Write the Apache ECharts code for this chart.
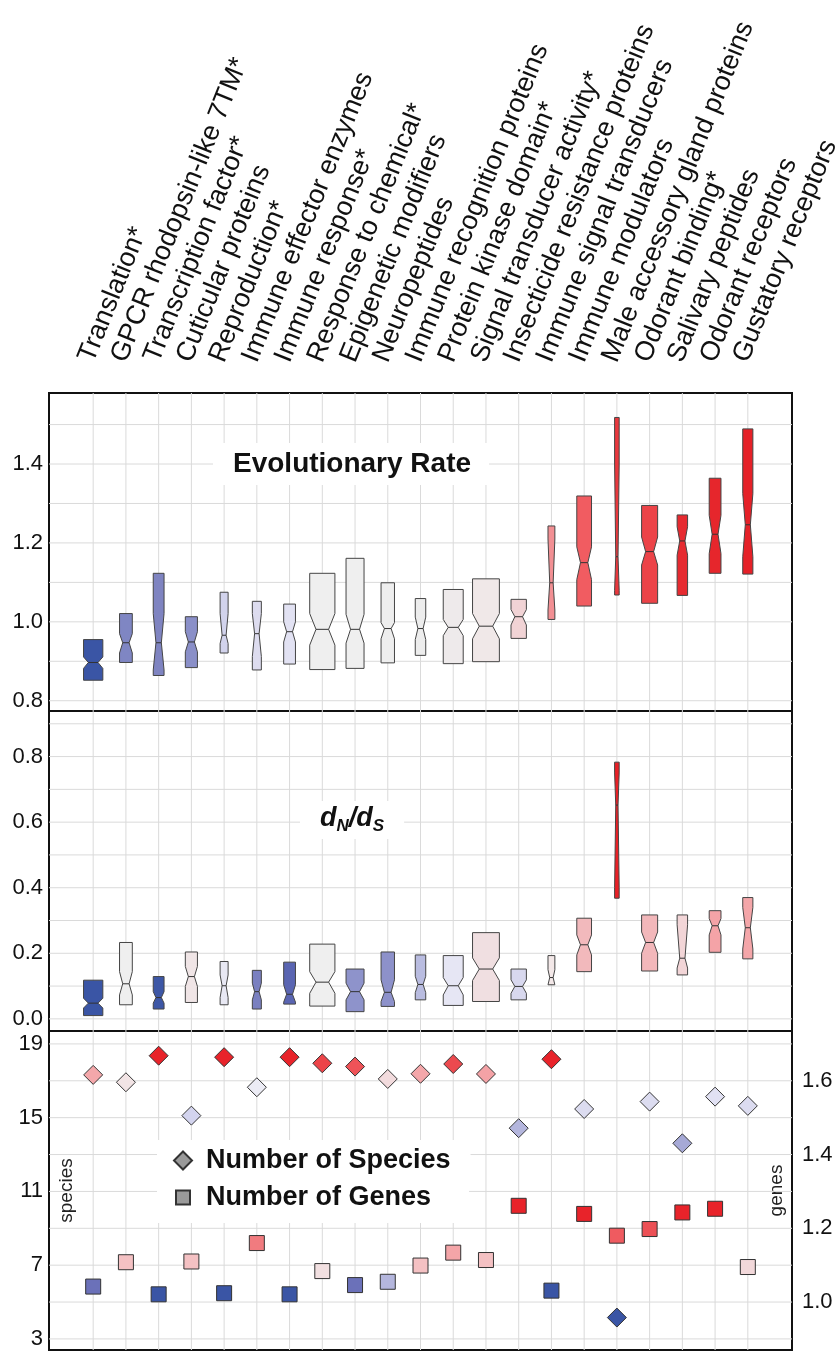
<!DOCTYPE html>
<html>
<head>
<meta charset="utf-8">
<script src="https://cdn.jsdelivr.net/npm/echarts@6.0.0/dist/echarts.min.js"></script>
<style>
	html, body { margin: 0; padding: 0; background: #fff; }
	#main { width: 839px; height: 1351px; }
</style>
</head>
<body>
<div id="main"></div>
<script>
	var categories = ['Translation*', 'GPCR rhodopsin-like 7TM*', 'Transcription factor*', 'Cuticular proteins',
		'Reproduction*', 'Immune effector enzymes', 'Immune response*', 'Response to chemical*',
		'Epigenetic modifiers', 'Neuropeptides', 'Immune recognition proteins', 'Protein kinase domain*',
		'Signal transducer activity*', 'Insecticide resistance proteins', 'Immune signal transducers',
		'Immune modulators', 'Male accessory gland proteins', 'Odorant binding*', 'Salivary peptides',
		'Odorant receptors', 'Gustatory receptors'];

	// box width, in category steps (same for both box panels)
	var boxWidth = [0.59, 0.39, 0.33, 0.37, 0.245, 0.275, 0.36, 0.77, 0.55, 0.41, 0.32,
		0.61, 0.82, 0.47, 0.21, 0.45, 0.14, 0.49, 0.32, 0.36, 0.31];

	// evolutionary rate
	var erQ1 = [0.852, 0.897, 0.864, 0.884, 0.921, 0.878, 0.893, 0.879, 0.882, 0.896, 0.915,
		0.894, 0.899, 0.958, 1.006, 1.040, 1.068, 1.047, 1.067, 1.123, 1.121];
	var erQ3 = [0.955, 1.021, 1.123, 1.013, 1.075, 1.052, 1.045, 1.123, 1.161, 1.099, 1.059,
		1.082, 1.109, 1.057, 1.243, 1.319, 1.518, 1.295, 1.271, 1.364, 1.489];
	var erMed = [0.897, 0.947, 0.947, 0.949, 0.966, 0.970, 0.975, 0.981, 0.981, 0.983, 0.983,
		0.986, 0.989, 1.013, 1.099, 1.150, 1.165, 1.178, 1.205, 1.222, 1.246];
	var erNotchLo = [0.882, 0.921, 0.878, 0.924, 0.945, 0.912, 0.949, 0.941, 0.946, 0.957, 0.955,
		0.965, 0.957, 0.992, 1.030, 1.107, 1.080, 1.144, 1.169, 1.173, 1.165];
	var erNotchHi = [0.911, 0.970, 1.021, 0.975, 1.021, 1.021, 1.000, 1.021, 1.019, 0.998, 1.012,
		1.006, 1.021, 1.031, 1.210, 1.190, 1.400, 1.215, 1.241, 1.270, 1.325];
	var erColors = ['#3a55a5', '#7f86c3', '#7f84c1', '#8a8fc8', '#d2d3ec', '#dddcef', '#e2e2f3',
		'#efefef', '#efefef', '#eeeeee', '#ededed', '#eeeaeb', '#f0e8e8', '#f1d3d5', '#f28f93',
		'#f15c61', '#e8383d', '#ec4348', '#e62a30', '#e6262c', '#e52128'];

	// dN/dS
	var dnQ1 = [0.010, 0.043, 0.030, 0.050, 0.043, 0.030, 0.045, 0.039, 0.022, 0.038, 0.058,
		0.041, 0.053, 0.058, 0.104, 0.144, 0.368, 0.146, 0.134, 0.203, 0.183];
	var dnQ3 = [0.118, 0.233, 0.129, 0.204, 0.175, 0.148, 0.173, 0.228, 0.152, 0.204, 0.195,
		0.193, 0.263, 0.152, 0.193, 0.307, 0.783, 0.317, 0.317, 0.330, 0.370];
	var dnMed = [0.048, 0.107, 0.065, 0.129, 0.101, 0.083, 0.075, 0.112, 0.083, 0.081, 0.105,
		0.101, 0.152, 0.099, 0.126, 0.226, 0.652, 0.233, 0.185, 0.284, 0.278];
	var dnNotchLo = [0.033, 0.073, 0.048, 0.099, 0.065, 0.058, 0.051, 0.078, 0.058, 0.053, 0.080,
		0.073, 0.117, 0.078, 0.104, 0.195, 0.400, 0.200, 0.155, 0.256, 0.213];
	var dnNotchHi = [0.063, 0.144, 0.083, 0.160, 0.134, 0.109, 0.104, 0.144, 0.109, 0.119, 0.130,
		0.126, 0.186, 0.119, 0.150, 0.256, 0.750, 0.265, 0.287, 0.306, 0.340];
	var dnColors = ['#3a55a5', '#efefef', '#3d57a6', '#f0e5e6', '#e8e8f3', '#7a80c0', '#5a65b2',
		'#efefef', '#8e93cb', '#8d91ca', '#b9bce0', '#e6e6f4', '#f0dfe1', '#d8d8ee', '#f3e8e8',
		'#f2b9bc', '#e82026', '#f2b7ba', '#f2d5d7', '#f4a3a7', '#f4a6a9'];

	// number of species / genes
	var species = [17.32, 16.92, 18.36, 15.11, 18.28, 16.65, 18.28, 17.95, 17.77, 17.10, 17.38,
		17.91, 17.37, 14.43, 18.17, 15.47, 4.16, 15.87, 13.61, 16.14, 15.64];
	var genes = [1.042, 1.108, 1.021, 1.110, 1.024, 1.160, 1.021, 1.084, 1.046, 1.055, 1.099,
		1.134, 1.114, 1.261, 1.031, 1.239, 1.180, 1.198, 1.243, 1.253, 1.095];
	var speciesColors = ['#f4a7aa', '#f2e4e5', '#e8232a', '#d3d4ee', '#e8232a', '#ececf5', '#e8232a',
		'#ec4449', '#ef5358', '#f2dbdd', '#f4a7aa', '#ec4a4f', '#f4a2a6', '#b4b6dd', '#e8232a',
		'#dcdcf0', '#3a55a5', '#dcdcf0', '#a6a9d6', '#e1e1f3', '#dcdcf0'];
	var geneColors = ['#6b71b9', '#f4c1c3', '#3a55a5', '#f4c1c3', '#3a55a5', '#f17b7f', '#3a55a5',
		'#f2e0e1', '#6b71b9', '#b4b6dd', '#f4c1c3', '#f4a5a8', '#f4c1c3', '#e8232a', '#3a55a5',
		'#e8232a', '#ef5b60', '#ec5055', '#e8232a', '#e8232a', '#f2d8da'];

	// axes
	var erTicks = [0.8, 1.0, 1.2, 1.4];
	var erLines = [0.8, 0.9, 1.0, 1.1, 1.2, 1.3, 1.4, 1.5];
	var dnTicks = [0.0, 0.2, 0.4, 0.6, 0.8];
	var dnLines = [0.0, 0.1, 0.2, 0.3, 0.4, 0.5, 0.6, 0.7, 0.8, 0.9];
	var speciesTicks = [3, 7, 11, 15, 19];
	var speciesLines = [3, 5, 7, 9, 11, 13, 15, 17, 19];
	var geneTicks = [1.0, 1.2, 1.4, 1.6];

	var X_MIN = -1.35, X_MAX = 21.35;
	var FONT = 'Liberation Sans, Arial, Helvetica, sans-serif';
	var GRID_COLOR = '#dadada';

	var catIdx = categories.map(function(c, i) { return i; });

	function boxRows(q1, q3, med, lo, hi) {
		return catIdx.map(function(i) {
			return [i, q1[i], q3[i], med[i], lo[i], hi[i], boxWidth[i]];
		});
	}

	//notched box drawn from the data through the axes
	function notchBox(colors) {
		return function(params, api) {
			var x = api.value(0), q1 = api.value(1), q3 = api.value(2), med = api.value(3);
			var lo = Math.max(api.value(4), q1), hi = Math.min(api.value(5), q3);
			var half = api.size([api.value(6), 0])[0] / 2;
			var cx = api.coord([x, med])[0];
			var yT = api.coord([x, q3])[1], yB = api.coord([x, q1])[1];
			var yHi = api.coord([x, hi])[1], yLo = api.coord([x, lo])[1], yM = api.coord([x, med])[1];
			var pts = [[cx - half, yT], [cx + half, yT], [cx + half, yHi], [cx + half / 2, yM],
				[cx + half, yLo], [cx + half, yB], [cx - half, yB], [cx - half, yLo],
				[cx - half / 2, yM], [cx - half, yHi]];
			return {
				type: 'group',
				children: [{
					type: 'polygon',
					shape: { points: pts },
					style: { fill: colors[params.dataIndex], stroke: '#454545', lineWidth: 1 }
				}, {
					type: 'line',
					shape: { x1: cx - half / 2, y1: yM, x2: cx + half / 2, y2: yM },
					style: { stroke: '#333', lineWidth: 1 }
				}]
			};
		};
	}

	function hLineSeries(gridIdx, values) {
		return {
			type: 'custom', xAxisIndex: gridIdx, yAxisIndex: gridIdx, silent: true, z: 1,
			data: values.map(function(v) { return [v]; }),
			renderItem: function(params, api) {
				var v = api.value(0);
				var p1 = api.coord([X_MIN, v]), p2 = api.coord([X_MAX, v]);
				return { type: 'line', shape: { x1: p1[0], y1: p1[1], x2: p2[0], y2: p2[1] },
					style: { stroke: GRID_COLOR, lineWidth: 1 } };
			}
		};
	}

	function vLineSeries(gridIdx, yMin, yMax) {
		return {
			type: 'custom', xAxisIndex: gridIdx, yAxisIndex: gridIdx, silent: true, z: 1,
			data: catIdx.map(function(i) { return [i]; }),
			renderItem: function(params, api) {
				var i = api.value(0);
				var p1 = api.coord([i, yMin]), p2 = api.coord([i, yMax]);
				return { type: 'line', shape: { x1: p1[0], y1: p1[1], x2: p2[0], y2: p2[1] },
					style: { stroke: GRID_COLOR, lineWidth: 1 } };
			}
		};
	}

	function yAx(gridIdx, min, max, ticks, pos, digits) {
		return {
			type: 'value', gridIndex: gridIdx, min: min, max: max, position: pos || 'left',
			axisLine: { show: false }, axisTick: { show: false }, splitLine: { show: false },
			nameMoveOverlap: false,
			axisLabel: {
				customValues: ticks, margin: pos == 'right' ? 10 : 6,
				fontSize: 22, color: '#111', fontFamily: FONT,
				formatter: function(v) { return digits ? v.toFixed(digits) : String(v); }
			}
		};
	}

	function xAx(gridIdx) {
		return {
			type: 'value', gridIndex: gridIdx, min: X_MIN, max: X_MAX,
			axisLine: { show: false }, axisTick: { show: false }, splitLine: { show: false },
			axisLabel: { show: false }
		};
	}

	var frame = { show: true, borderColor: '#111', borderWidth: 2, backgroundColor: 'transparent',
		outerBoundsMode: 'none', containLabel: false };

	var option = {
		animation: false,
		textStyle: { fontFamily: FONT },
		grid: [
			Object.assign({ left: 49, right: 47, top: 393, height: 318 }, frame),
			Object.assign({ left: 49, right: 47, top: 711, height: 320 }, frame),
			Object.assign({ left: 49, right: 47, top: 1031, height: 319 }, frame),
			{ left: 42, right: 54, top: 369, height: 2, show: false, outerBoundsMode: 'none' }
		],
		title: [{
			text: 'Evolutionary Rate', left: 213, top: 443,
			backgroundColor: '#fff', padding: [7, 18, 7, 20],
			textStyle: { fontSize: 28, fontWeight: 'bold', color: '#111', fontFamily: FONT }
		}, {
			text: '{d|d}{s|N}{d|/d}{s|S}', left: 300, top: 798,
			backgroundColor: '#fff', padding: [4, 20, 4, 20],
			textStyle: {
				rich: {
					d: { fontSize: 27, fontWeight: 'bold', fontStyle: 'italic', color: '#111', fontFamily: FONT },
					s: { fontSize: 17, fontWeight: 'bold', fontStyle: 'italic', color: '#111', fontFamily: FONT,
						padding: [16, 0, 0, 0] }
				}
			}
		}],
		legend: [{
			data: ['Number of Species'], left: 157, top: 1140, orient: 'vertical',
			selectedMode: false, backgroundColor: '#fff', padding: [7, 20, 6, 16],
			itemWidth: 18, itemHeight: 18,
			textStyle: { fontSize: 27, fontWeight: 'bold', color: '#111', fontFamily: FONT, padding: [0, 0, 0, 9] }
		}, {
			data: ['Number of Genes'], left: 157, top: 1179, orient: 'vertical',
			selectedMode: false, backgroundColor: '#fff', padding: [5, 38, 12, 18],
			itemWidth: 14, itemHeight: 14,
			textStyle: { fontSize: 27, fontWeight: 'bold', color: '#111', fontFamily: FONT, padding: [0, 0, 0, 11] }
		}],
		xAxis: [xAx(0), xAx(1), xAx(2), {
			type: 'value', gridIndex: 3, min: X_MIN, max: X_MAX, position: 'top',
			axisLine: { show: false }, axisTick: { show: false }, splitLine: { show: false },
			axisLabel: {
				customValues: catIdx, rotate: 68, margin: 8,
				fontSize: 27, color: '#111', fontFamily: FONT,
				formatter: function(v) { return categories[Math.round(v)]; }
			}
		}],
		yAxis: [
			yAx(0, 0.774, 1.58, erTicks, 'left', 1),
			yAx(1, -0.037, 0.939, dnTicks, 'left', 1),
			Object.assign(yAx(2, 2.4, 19.7, speciesTicks, 'left', 0), {
				name: 'species', nameLocation: 'middle', nameGap: -27, nameRotate: 90,
				nameTextStyle: { fontSize: 19, color: '#222', fontFamily: FONT }
			}),
			Object.assign(yAx(2, 0.87, 1.735, geneTicks, 'right', 1), {
				name: 'genes', nameLocation: 'middle', nameGap: -25, nameRotate: 90,
				nameTextStyle: { fontSize: 19, color: '#222', fontFamily: FONT }
			}),
			{ type: 'value', gridIndex: 3, show: false, min: 0, max: 1 }
		],
		series: [
			hLineSeries(0, erLines), vLineSeries(0, 0.774, 1.58),
			hLineSeries(1, dnLines), vLineSeries(1, -0.037, 0.939),
			Object.assign(hLineSeries(2, speciesLines), { yAxisIndex: 2 }),
			Object.assign(vLineSeries(2, 2.4, 19.7), { yAxisIndex: 2 }),
			{
				name: 'Evolutionary Rate', type: 'custom', xAxisIndex: 0, yAxisIndex: 0, z: 3,
				data: boxRows(erQ1, erQ3, erMed, erNotchLo, erNotchHi),
				renderItem: notchBox(erColors)
			},
			{
				name: 'dN/dS', type: 'custom', xAxisIndex: 1, yAxisIndex: 1, z: 3,
				data: boxRows(dnQ1, dnQ3, dnMed, dnNotchLo, dnNotchHi),
				renderItem: notchBox(dnColors)
			},
			{
				name: 'Number of Species', type: 'scatter', xAxisIndex: 2, yAxisIndex: 2, z: 3,
				symbol: 'diamond', symbolSize: 19,
				itemStyle: { color: '#9a9a9a', borderColor: '#333', borderWidth: 1, opacity: 1 },
				data: catIdx.map(function(i) {
					return { value: [i, species[i]], itemStyle: { color: speciesColors[i] } };
				})
			},
			{
				name: 'Number of Genes', type: 'scatter', xAxisIndex: 2, yAxisIndex: 3, z: 3,
				symbol: 'rect', symbolSize: 15,
				itemStyle: { color: '#9a9a9a', borderColor: '#333', borderWidth: 1, opacity: 1 },
				data: catIdx.map(function(i) {
					return { value: [i, genes[i]], itemStyle: { color: geneColors[i] } };
				})
			}
		]
	};

	var chart = echarts.init(document.getElementById('main'), null, { renderer: 'canvas' });
	chart.setOption(option);
</script>
</body>
</html>
